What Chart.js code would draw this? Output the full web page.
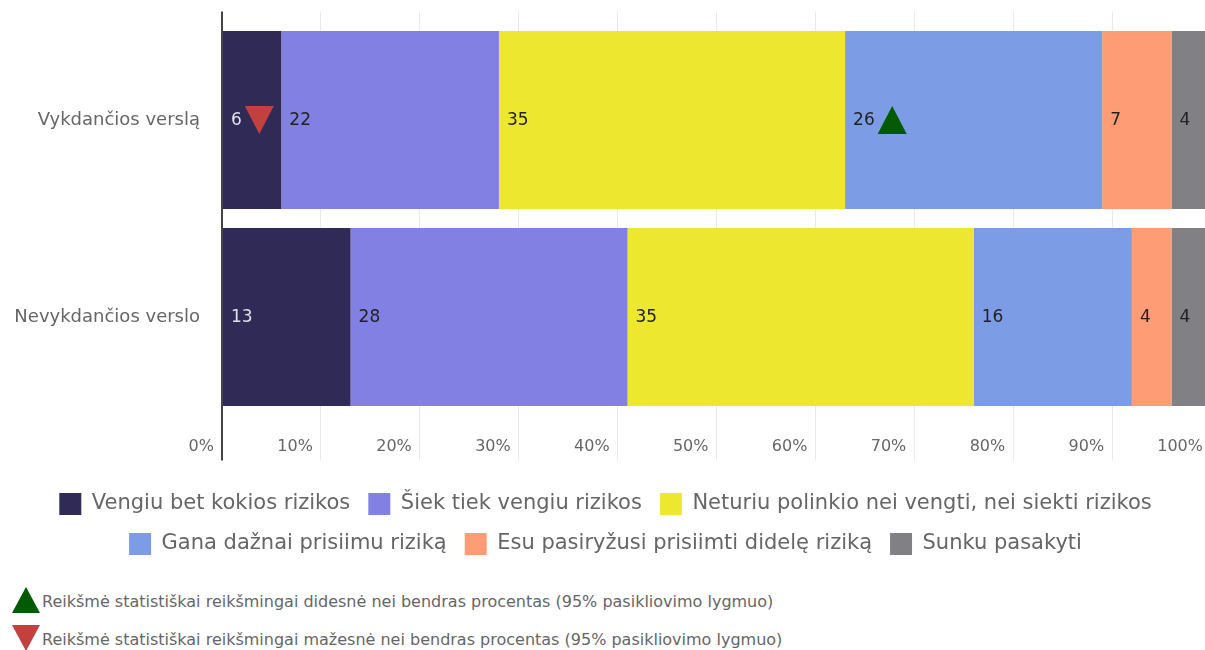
<!DOCTYPE html>
<html lang="lt">
<head>
<meta charset="utf-8">
<script src="https://cdn.jsdelivr.net/npm/chart.js@4"></script>
<style>
  html, body { margin: 0; padding: 0; background: #fff; overflow: hidden; }
  body { width: 1205px; height: 650px; position: relative; font-family: "DejaVu Sans", sans-serif; }
  #wrap { position: absolute; left: 0; top: 0; width: 1224px; height: 574px; }
  .note { position: absolute; left: 42px; font-size: 16px; color: #666; white-space: nowrap; line-height: 18px; }
  .tri { position: absolute; left: 12px; width: 0; height: 0; border-left: 14px solid transparent; border-right: 14px solid transparent; }
  .tri.up { top: 587px; border-bottom: 26px solid #035a03; }
  .tri.down { top: 625px; border-top: 26px solid #c2413f; }
</style>
</head>
<body>
<div id="wrap"><canvas id="riskChart"></canvas></div>
<div class="tri up"></div>
<div class="note" style="top:593px">Reikšmė statistiškai reikšmingai didesnė nei bendras procentas (95% pasikliovimo lygmuo)</div>
<div class="tri down"></div>
<div class="note" style="top:631px">Reikšmė statistiškai reikšmingai mažesnė nei bendras procentas (95% pasikliovimo lygmuo)</div>

<script>
const categories = ['Vykdančios verslą', 'Nevykdančios verslo'];

const seriesNames = [
    'Vengiu bet kokios rizikos',
    'Šiek tiek vengiu rizikos',
    'Neturiu polinkio nei vengti, nei siekti rizikos',
    'Gana dažnai prisiimu riziką',
    'Esu pasiryžusi prisiimti didelę riziką',
    'Sunku pasakyti'
];

const vengiu = [6, 13];
const siekTiek = [22, 28];
const neturiu = [35, 35];
const ganaDaznai = [26, 16];
const esuPasiryzusi = [7, 4];
const sunku = [4, 4];

// significance markers per category, in series order
const sigVykdancios = ['down', '', '', 'up', '', ''];
const sigNevykdancios = ['', '', '', '', '', ''];

const xTicks = [0, 10, 20, 30, 40, 50, 60, 70, 80, 90, 100];

const seriesColors = ['#302a57', '#8280e3', '#ede72f', '#7c9de6', '#fe9d75', '#818185'];
const labelColors = ['#e0e0e6', '#222', '#222', '#222', '#222', '#222'];

const allValues = [vengiu, siekTiek, neturiu, ganaDaznai, esuPasiryzusi, sunku];
const significance = [sigVykdancios, sigNevykdancios];

const FONT = '"DejaVu Sans", sans-serif';

// bar value labels + significance triangles
const barLabels = {
    id: 'barLabels',
    afterDatasetsDraw(chart) {
        const ctx = chart.ctx;
        ctx.save();
        ctx.font = '17px ' + FONT;
        ctx.textBaseline = 'middle';
        ctx.textAlign = 'left';
        chart.data.datasets.forEach((ds, i) => {
            const meta = chart.getDatasetMeta(i);
            meta.data.forEach((bar, j) => {
                const left = Math.min(bar.base, bar.x);
                const text = String(ds.data[j]);
                ctx.fillStyle = labelColors[i];
                ctx.fillText(text, left + 8, bar.y + 1);
                const sig = significance[j][i];
                if (!sig) return;
                const tx = left + 8 + ctx.measureText(text).width + 3;
                const w = 29, h = 28;
                ctx.beginPath();
                if (sig === 'up') {
                    ctx.fillStyle = '#035a03';
                    ctx.moveTo(tx, bar.y + h / 2);
                    ctx.lineTo(tx + w, bar.y + h / 2);
                    ctx.lineTo(tx + w / 2, bar.y - h / 2);
                } else {
                    ctx.fillStyle = '#c2413f';
                    ctx.moveTo(tx, bar.y - h / 2);
                    ctx.lineTo(tx + w, bar.y - h / 2);
                    ctx.lineTo(tx + w / 2, bar.y + h / 2);
                }
                ctx.closePath();
                ctx.fill();
            });
        });
        ctx.restore();
    }
};

const gridColor = (c) => (c.tick && c.tick.value === 0) ? '#444' : '#e9e9e9';
const gridWidth = (c) => (c.tick && c.tick.value === 0) ? 2 : 1;

new Chart(document.getElementById('riskChart'), {
    type: 'bar',
    data: {
        labels: categories,
        datasets: seriesNames.map((name, i) => ({
            label: name,
            data: allValues[i],
            backgroundColor: seriesColors[i],
            borderWidth: 0,
            categoryPercentage: 1,
            barPercentage: 0.904
        }))
    },
    options: {
        indexAxis: 'y',
        responsive: true,
        maintainAspectRatio: false,
        animation: false,
        layout: { padding: { top: 11.5, left: 0, right: 13, bottom: 9 } },
        scales: {
            x: {
                stacked: true,
                min: 0,
                max: 100,
                afterBuildTicks: (s) => { s.ticks = xTicks.map(v => ({ value: v })); },
                afterFit: (s) => { s.height = 59.5; },
                ticks: {
                    align: 'end',
                    padding: -23,
                    color: '#666',
                    font: { family: FONT, size: 16 },
                    callback: (v) => v + '%\u2002'
                },
                grid: { color: gridColor, lineWidth: gridWidth, tickLength: 45 },
                border: { display: false }
            },
            x2: {
                position: 'top',
                min: 0,
                max: 100,
                afterBuildTicks: (s) => { s.ticks = xTicks.map(v => ({ value: v })); },
                ticks: { display: false },
                grid: { drawOnChartArea: false, color: gridColor, lineWidth: gridWidth, tickLength: 10 },
                border: { display: false }
            },
            y: {
                stacked: true,
                afterFit: (s) => {
                    s.width = 222;
                    s.paddingTop = 0;
                    s.paddingBottom = 0;
                },
                ticks: {
                    padding: 14,
                    color: '#666',
                    font: { family: FONT, size: 18 }
                },
                grid: { display: false },
                border: { display: true, color: '#444', width: 2 }
            }
        },
        plugins: {
            tooltip: { enabled: false },
            legend: {
                position: 'bottom',
                labels: {
                    boxWidth: 22,
                    boxHeight: 22,
                    padding: 18,
                    color: '#666',
                    font: { family: FONT, size: 21 }
                }
            }
        }
    },
    plugins: [barLabels]
});
</script>
</body>
</html>
